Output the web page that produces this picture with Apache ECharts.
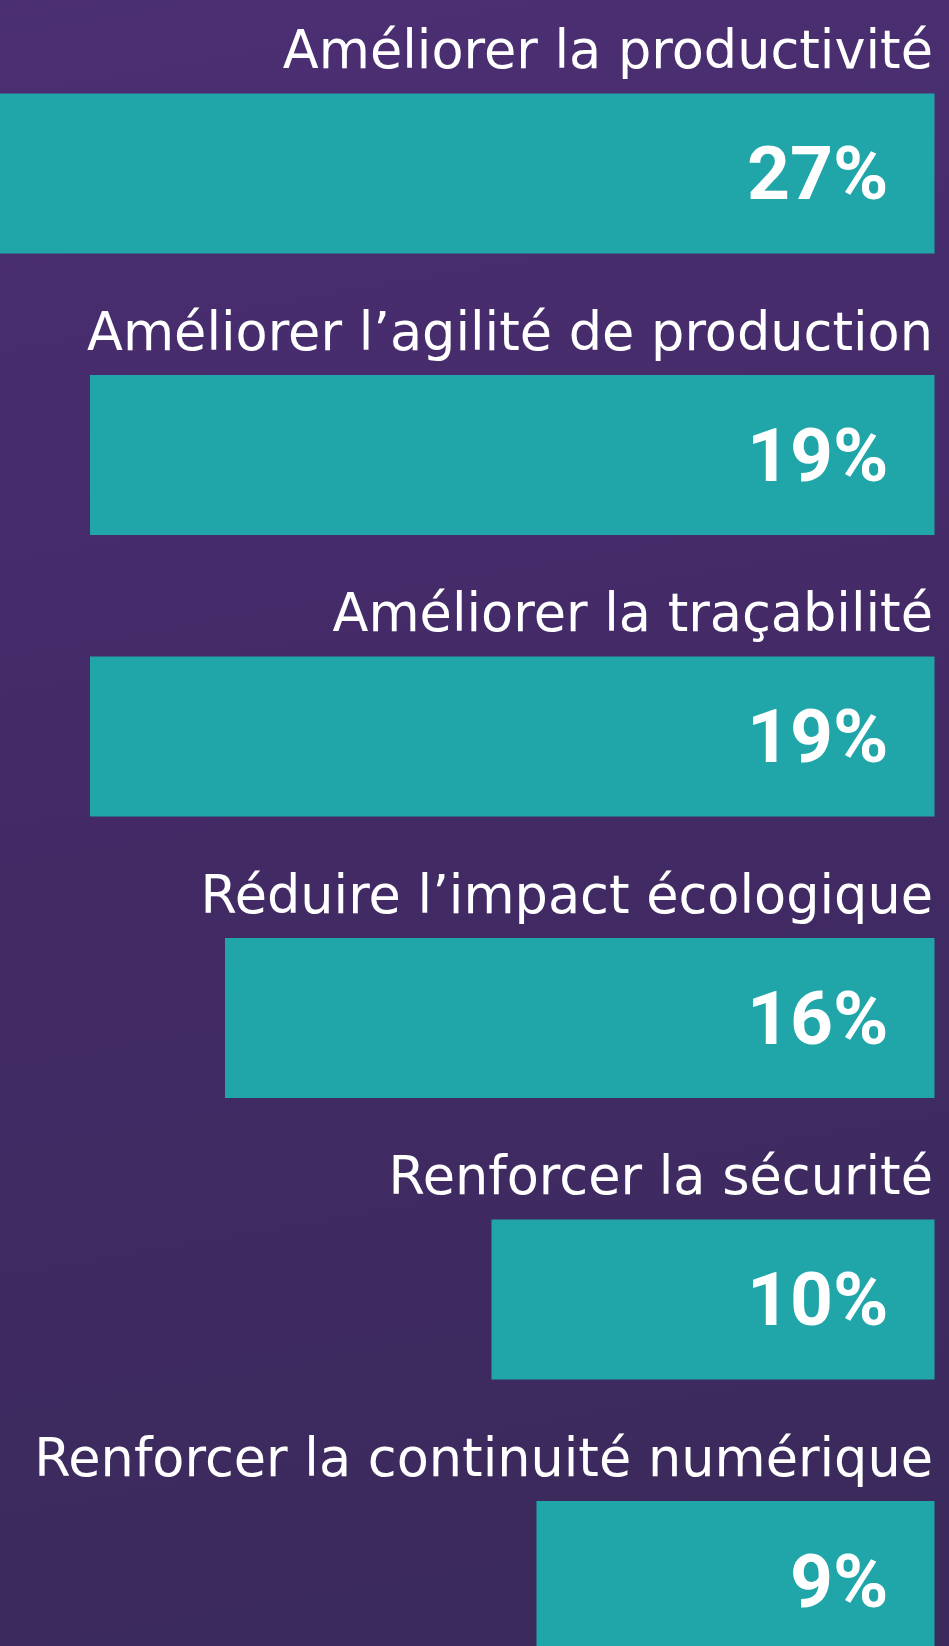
<!DOCTYPE html>
<html>
<head>
<meta charset="utf-8">
<script src="https://cdn.jsdelivr.net/npm/echarts@6/dist/echarts.min.js"></script>
<style>
  html, body { margin: 0; padding: 0; }
  #chart { width: 949px; height: 1646px; }
</style>
</head>
<body>
<div id="chart"></div>
<script>
var categories = [
  "Améliorer la productivité",
  "Améliorer l’agilité de production",
  "Améliorer la traçabilité",
  "Réduire l’impact écologique",
  "Renforcer la sécurité",
  "Renforcer la continuité numérique"
];
// share of answers, as printed on each bar
var shares = [27, 19, 19, 16, 10, 9];
// bar lengths as drawn in the picture (same % units, first bar = 27)
var barLength = [27, 24.4, 24.4, 20.5, 12.8, 11.5];

var chart = echarts.init(document.getElementById("chart"), null, { renderer: "canvas" });

var option = {
  backgroundColor: {
    type: "linear", x: 0, y: 0, x2: 0.3, y2: 1,
    colorStops: [
      { offset: 0, color: "#4b2f73" },
      { offset: 0.5, color: "#432a66" },
      { offset: 1, color: "#3b2a5c" }
    ]
  },
  animation: false,
  // category ticks sit on the bar centres (boundaryGap false), first at top, last at bottom
  grid: { left: 0, right: 14.5, top: 173.5, bottom: 65 },
  xAxis: {
    type: "value",
    inverse: true,
    min: 0,
    max: 27,
    show: false
  },
  yAxis: {
    type: "category",
    inverse: true,
    boundaryGap: false,
    data: categories,
    show: false
  },
  series: [{
    type: "bar",
    barWidth: 160,
    data: barLength.map(function (v, i) {
      return { value: v, share: shares[i] };
    }),
    itemStyle: { color: "#20a6a8" },
    label: {
      show: true,
      position: "insideRight",
      distance: 46,
      offset: [0, 7],
      color: "#ffffff",
      fontFamily: "Roboto, sans-serif",
      fontWeight: "bold",
      fontSize: 75,
      formatter: function (p) { return p.data.share + "%"; }
    }
  }, {
    // category names sit above each bar, right-aligned with it
    type: "bar",
    barWidth: 160,
    barGap: "-100%",
    silent: true,
    data: barLength,
    itemStyle: { color: "rgba(0,0,0,0)" },
    label: {
      show: true,
      position: "insideTopRight",
      distance: 1.5,
      offset: [0, -67],
      color: "#ffffff",
      fontFamily: "'DejaVu Sans', 'Open Sans', sans-serif",
      fontSize: 52.5,
      formatter: function (p) { return p.name; }
    }
  }]
};

chart.setOption(option);
</script>
</body>
</html>
